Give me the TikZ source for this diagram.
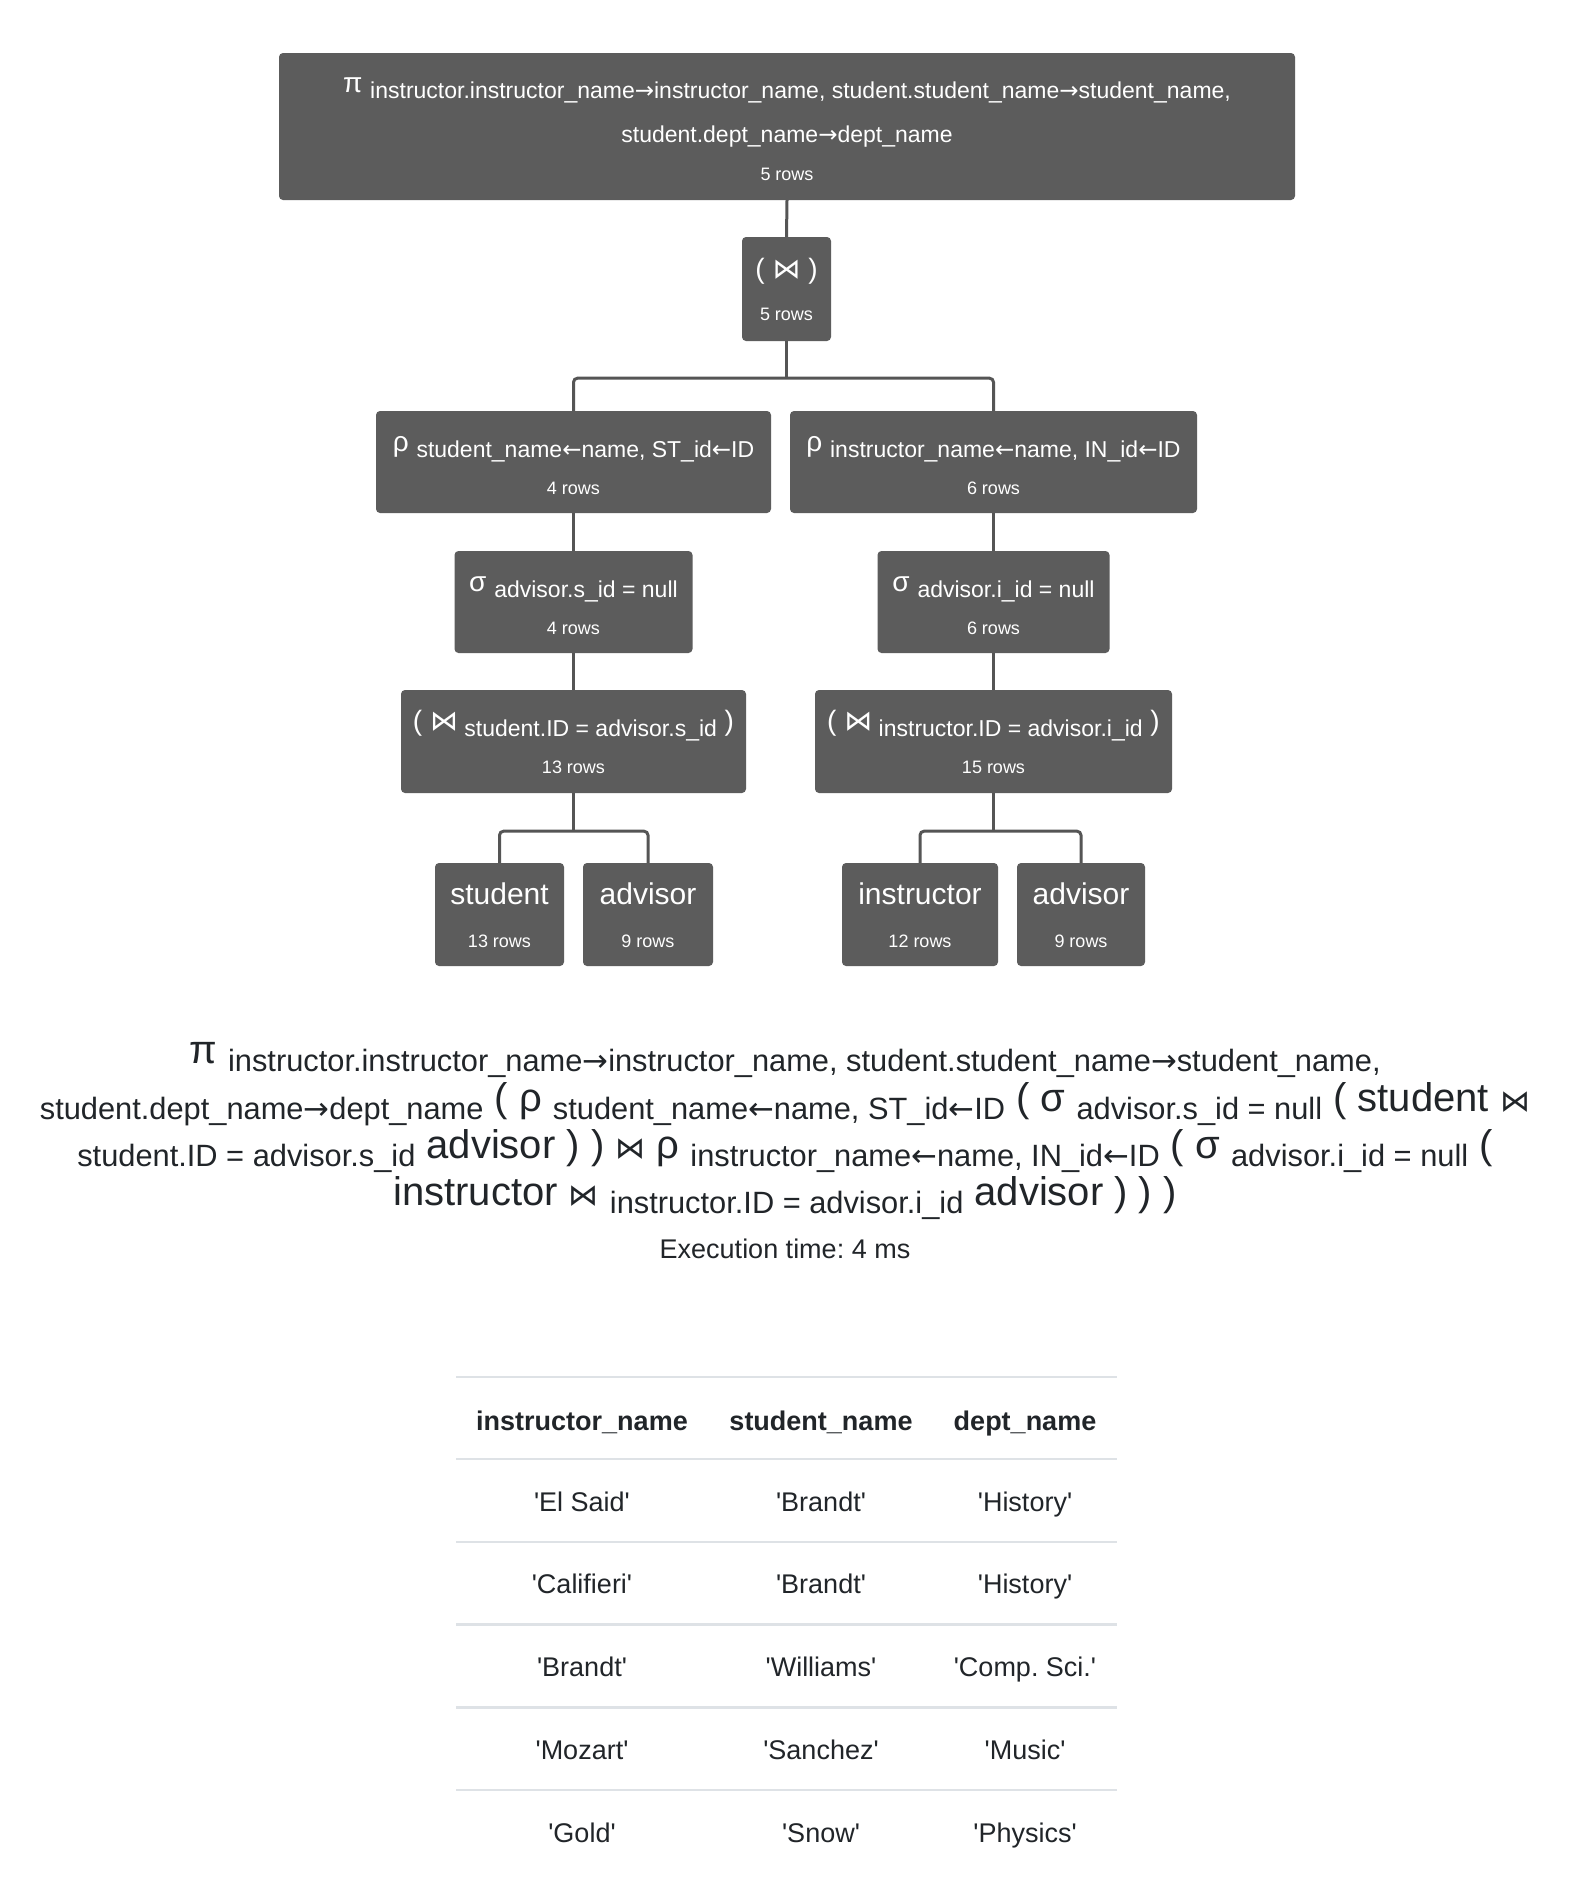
\documentclass[tikz,border=0pt]{standalone}
\usepackage{fontspec}
\setmainfont{Liberation Sans}
\newfontfamily\symfont{DejaVu Sans}
\definecolor{boxgray}{HTML}{5C5C5C}
\definecolor{linegray}{HTML}{555555}
\definecolor{inkdark}{HTML}{212529}
\definecolor{rulegray}{HTML}{DEE2E6}
\newcommand{\bt}{{\symfont ⋈}}
\newcommand{\fbt}{{\symfont\fontsize{30}{30}\selectfont ⋈}}
\newcommand{\ra}{{\symfont →}}
\newcommand{\la}{{\symfont ←}}
\newcommand{\opsub}[1]{\raisebox{-6pt}{\fontsize{23}{23}\selectfont #1}}
\newcommand{\bigsub}[1]{\raisebox{-8pt}{\fontsize{30.8}{31}\selectfont #1}}
\newcommand{\q}{\textquotesingle}
\frenchspacing
\tikzset{
	opbox/.style={fill=boxgray, rounded corners=4pt, inner sep=0pt},
	oplabel/.style={text=white, anchor=base, inner sep=0pt, font=\fontsize{28}{28}\selectfont},
	rowlabel/.style={text=white, anchor=base, inner sep=0pt, font=\fontsize{18}{18}\selectfont},
	leaflabel/.style={text=white, anchor=base, inner sep=0pt, font=\fontsize{30}{30}\selectfont},
	edge/.style={draw=linegray, line width=3pt, rounded corners=4pt},
	formula/.style={text=inkdark, anchor=base, inner sep=0pt, font=\fontsize{40}{40}\selectfont},
	cell/.style={text=inkdark, anchor=base, inner sep=0pt, font=\fontsize{27}{27}\selectfont},
	headcell/.style={cell, font=\fontsize{27}{27}\selectfont\bfseries},
	tblrule/.style={draw=rulegray, line width=2.5pt}
}
\begin{document}
\begin{tikzpicture}[x=1pt, y=-1pt]
	\path[use as bounding box, fill=white] (0,0) rectangle (1570,1898);
	% operator tree
	\node[opbox, minimum width=1016, minimum height=147] (proj) at (787,126.5) {};
	\node[oplabel] (proj-a) at ([yshift=-40]proj.north) {π \opsub{instructor.instructor\_name\ra instructor\_name, student.student\_name\ra student\_name,}};
	\node[oplabel, font=\fontsize{23}{23}\selectfont] (proj-b) at ([yshift=-90]proj.north) {student.dept\_name\ra dept\_name};
	\node[rowlabel] (proj-r) at ([yshift=-128]proj.north) {5 rows};

	\node[opbox, minimum width=89, minimum height=104] (join) at (786.5,289) {};
	\node[oplabel] (join-a) at ([yshift=-42]join.north) {( \bt{} )};
	\node[rowlabel] (join-r) at ([yshift=-84]join.north) {5 rows};

	\node[opbox, minimum width=395, minimum height=102] (rhoL) at (573.5,462) {};
	\node[oplabel] (rhoL-a) at ([yshift=-40.5]rhoL.north) {ρ \opsub{student\_name\la name, ST\_id\la ID}};
	\node[rowlabel] (rhoL-r) at ([yshift=-84]rhoL.north) {4 rows};

	\node[opbox, minimum width=407, minimum height=102] (rhoR) at (993.5,462) {};
	\node[oplabel] (rhoR-a) at ([yshift=-40.5]rhoR.north) {ρ \opsub{instructor\_name\la name, IN\_id\la ID}};
	\node[rowlabel] (rhoR-r) at ([yshift=-84]rhoR.north) {6 rows};

	\node[opbox, minimum width=238, minimum height=102] (sigL) at (573.5,602) {};
	\node[oplabel] (sigL-a) at ([yshift=-40.5]sigL.north) {σ \opsub{advisor.s\_id = null}};
	\node[rowlabel] (sigL-r) at ([yshift=-84]sigL.north) {4 rows};

	\node[opbox, minimum width=232, minimum height=102] (sigR) at (993.5,602) {};
	\node[oplabel] (sigR-a) at ([yshift=-40.5]sigR.north) {σ \opsub{advisor.i\_id = null}};
	\node[rowlabel] (sigR-r) at ([yshift=-84]sigR.north) {6 rows};

	\node[opbox, minimum width=345, minimum height=103] (jnL) at (573.5,741.5) {};
	\node[oplabel] (jnL-a) at ([yshift=-40.5]jnL.north) {( \bt\opsub{ student.ID = advisor.s\_id} )};
	\node[rowlabel] (jnL-r) at ([yshift=-84]jnL.north) {13 rows};

	\node[opbox, minimum width=357, minimum height=103] (jnR) at (993.5,741.5) {};
	\node[oplabel] (jnR-a) at ([yshift=-40.5]jnR.north) {( \bt\opsub{ instructor.ID = advisor.i\_id} )};
	\node[rowlabel] (jnR-r) at ([yshift=-84]jnR.north) {15 rows};

	% relations
	\foreach \nm/\cx/\w/\txt/\rw in {stu/499.5/129/student/13, advL/648/130/advisor/9, ins/920/156/instructor/12, advR/1081/128/advisor/9}{
		\node[opbox, minimum width=\w, minimum height=103] (\nm) at (\cx,914.5) {};
		\node[leaflabel] (\nm-a) at ([yshift=-42]\nm.north) {\txt};
		\node[rowlabel] (\nm-r) at ([yshift=-85]\nm.north) {\rw\ rows};
	}

	% connectors
	\draw[edge] (proj.south) -- (join.north);
	\draw[edge] (join.south) -- ++(0,37) coordinate (jsplit);
	\draw[edge] (rhoL.north) |- (jsplit) -| (rhoR.north);
	\draw[edge] (rhoL.south) -- (sigL.north);
	\draw[edge] (rhoR.south) -- (sigR.north);
	\draw[edge] (sigL.south) -- (jnL.north);
	\draw[edge] (sigR.south) -- (jnR.north);
	\draw[edge] (jnL.south) -- ++(0,38) coordinate (ssplit);
	\draw[edge] (stu.north) |- (ssplit) -| (advL.north);
	\draw[edge] (jnR.south) -- ++(0,38) coordinate (isplit);
	\draw[edge] (ins.north) |- (isplit) -| (advR.north);

	% expression
	\node[formula] (expr1) at (785,1063) {π \bigsub{instructor.instructor\_name\ra instructor\_name, student.student\_name\ra student\_name,}};
	\node[formula] (expr2) at (785,1111) {\bigsub{student.dept\_name\ra dept\_name} ( ρ \bigsub{student\_name\la name, ST\_id\la ID} ( σ \bigsub{advisor.s\_id = null} ( student \fbt};
	\node[formula] (expr3) at (785,1158) {\bigsub{student.ID = advisor.s\_id} advisor ) ) \fbt{} ρ \bigsub{instructor\_name\la name, IN\_id\la ID} ( σ \bigsub{advisor.i\_id = null} (};
	\node[formula] (expr4) at (785,1205) {instructor \fbt{} \bigsub{instructor.ID = advisor.i\_id} advisor ) ) )};
	\node[cell] (exectime) at (785,1258) {Execution time: 4 ms};

	% result table
	\draw[tblrule] (456,1377) -- (1117,1377);
	\node[headcell] (h1) at (582,1430) {instructor\_name};
	\node[headcell] (h2) at (821,1430) {student\_name};
	\node[headcell] (h3) at (1025,1430) {dept\_name};
	\foreach \i/\a/\b/\c in {0/El Said/Brandt/History, 1/Califieri/Brandt/History, 2/Brandt/Williams/Comp. Sci., 3/Mozart/Sanchez/Music, 4/Gold/Snow/Physics}{
		\pgfmathsetmacro{\ry}{1459+82.75*\i}
		\draw[tblrule] (456,\ry) -- (1117,\ry);
		\node[cell] (c\i-1) at (582,\ry+52) {\q\a\q};
		\node[cell] (c\i-2) at (821,\ry+52) {\q\b\q};
		\node[cell] (c\i-3) at (1025,\ry+52) {\q\c\q};
	}
\end{tikzpicture}
\end{document}
